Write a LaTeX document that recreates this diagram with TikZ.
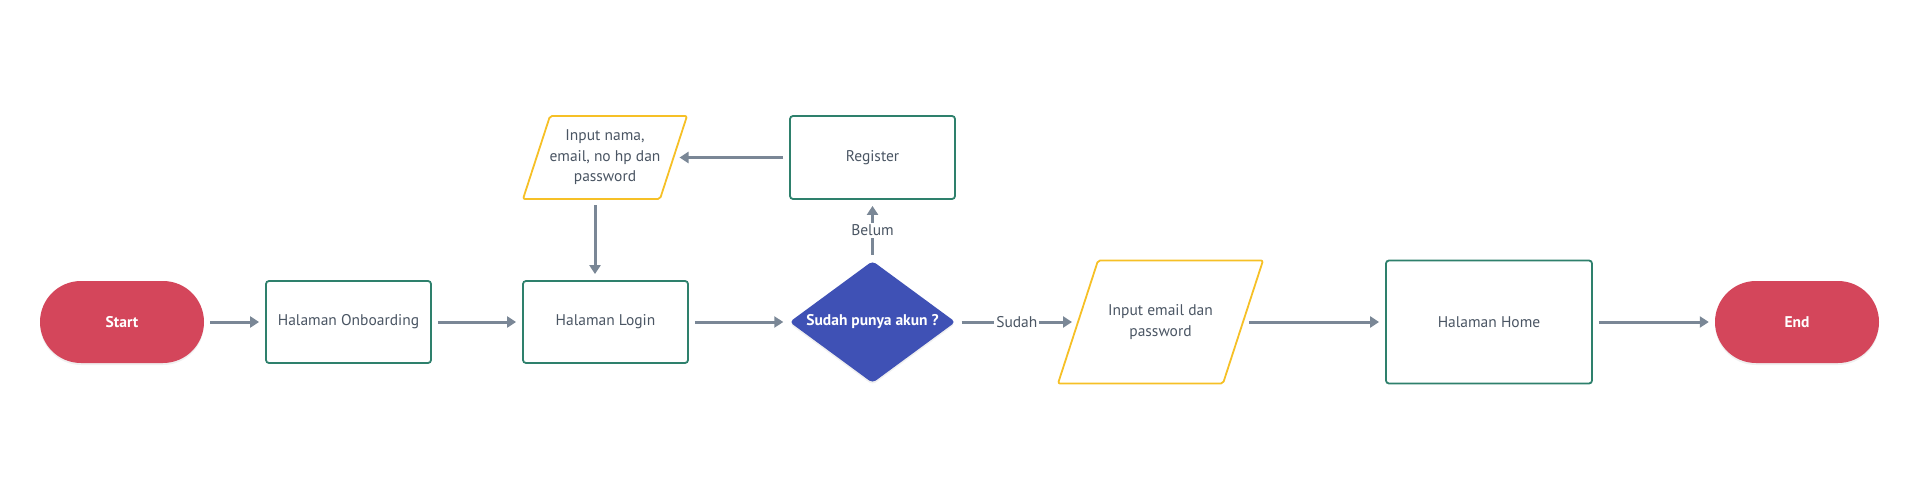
\documentclass[tikz,border=0pt]{standalone}
\usepackage{fontspec}
\setmainfont{PT Sans}
\usetikzlibrary{arrows.meta, shapes.geometric, shadows}
\definecolor{Crimson}{RGB}{212, 70, 91}
\definecolor{Teal}{RGB}{46, 128, 108}
\definecolor{Amber}{RGB}{246, 192, 38}
\definecolor{Indigo}{RGB}{63, 81, 181}
\definecolor{Slate}{RGB}{122, 135, 150}
\definecolor{Ink}{RGB}{74, 85, 99}

\begin{document}
\begin{tikzpicture}[x=1pt, y=-1pt,
    font=\fontsize{15.5}{20.5}\selectfont,
    terminal/.style={fill=Crimson, text=white, font=\fontsize{15.5}{20.5}\selectfont\bfseries,
      rounded corners=41pt, minimum width=164pt, minimum height=82pt,
      drop shadow={opacity=0.12, shadow xshift=0pt, shadow yshift=-2pt}},
    process/.style={draw=Teal, line width=1.8pt, rounded corners=3pt, text=Ink,
      minimum width=165pt, minimum height=82pt},
    iobox/.style={text=Ink, align=center, inner sep=0pt, outer sep=0pt},
    ioline/.style={draw=Amber, line width=1.8pt, rounded corners=2pt, line join=round},
    decision/.style={diamond, aspect=1.36, fill=Indigo, text=white,
      font=\fontsize{15.5}{20.5}\selectfont\bfseries, inner sep=0pt,
      minimum width=166pt, minimum height=122pt, rounded corners=4pt,
      drop shadow={opacity=0.12, shadow xshift=0pt, shadow yshift=-2pt}},
    flow/.style={draw=Slate, line width=3pt, -{Triangle[length=9pt, width=11pt]},
      shorten >=6pt, shorten <=6pt},
    tag/.style={fill=white, text=Ink, inner sep=2pt}
  ]
  \useasboundingbox (0,0) rectangle (1920,500);

  % Main row
  \node[terminal] (start) at (122,322) {Start};
  \node[process] (onboard) at (348.5,322) {Halaman Onboarding};
  \node[process] (login) at (605.5,322) {Halaman Login};
  \node[decision] (akun) at (872.5,322) {Sudah punya akun ?};
  \node[iobox, minimum width=165pt, minimum height=123pt] (inlogin) at (1160.5,322) {Input email dan\\password};
  \node[process, minimum width=206pt, minimum height=123pt] (home) at (1489,322) {Halaman Home};
  \node[terminal] (end) at (1797,322) {End};

  % Upper row
  \node[process, minimum height=83pt] (register) at (872.5,157.5) {Register};
  \node[iobox, minimum width=137pt, minimum height=83pt] (inreg) at (605,157.5) {Input nama,\\email, no hp dan\\password};

  % Input shapes (parallelograms)
  \draw[ioline] ([xshift=13.5pt]inreg.north west) -- ([xshift=13.5pt]inreg.north east)
    -- ([xshift=-13.5pt]inreg.south east) -- ([xshift=-13.5pt]inreg.south west) -- cycle;
  \draw[ioline] ([xshift=20pt]inlogin.north west) -- ([xshift=20pt]inlogin.north east)
    -- ([xshift=-20pt]inlogin.south east) -- ([xshift=-20pt]inlogin.south west) -- cycle;

  % Connectors
  \draw[flow] (start) -- (onboard);
  \draw[flow] (onboard) -- (login);
  \draw[flow] (login) -- (akun);
  \draw[flow] (akun) -- node[tag] {Sudah} (inlogin);
  \draw[flow] (inlogin) -- (home);
  \draw[flow] (home) -- (end);
  \draw[flow] (akun) -- node[tag] {Belum} (register);
  \draw[flow] (register) -- (inreg);
  \draw[flow] ([xshift=-10pt]inreg.south) -- ([xshift=-10pt]inreg.south |- login.north);
\end{tikzpicture}
\end{document}
